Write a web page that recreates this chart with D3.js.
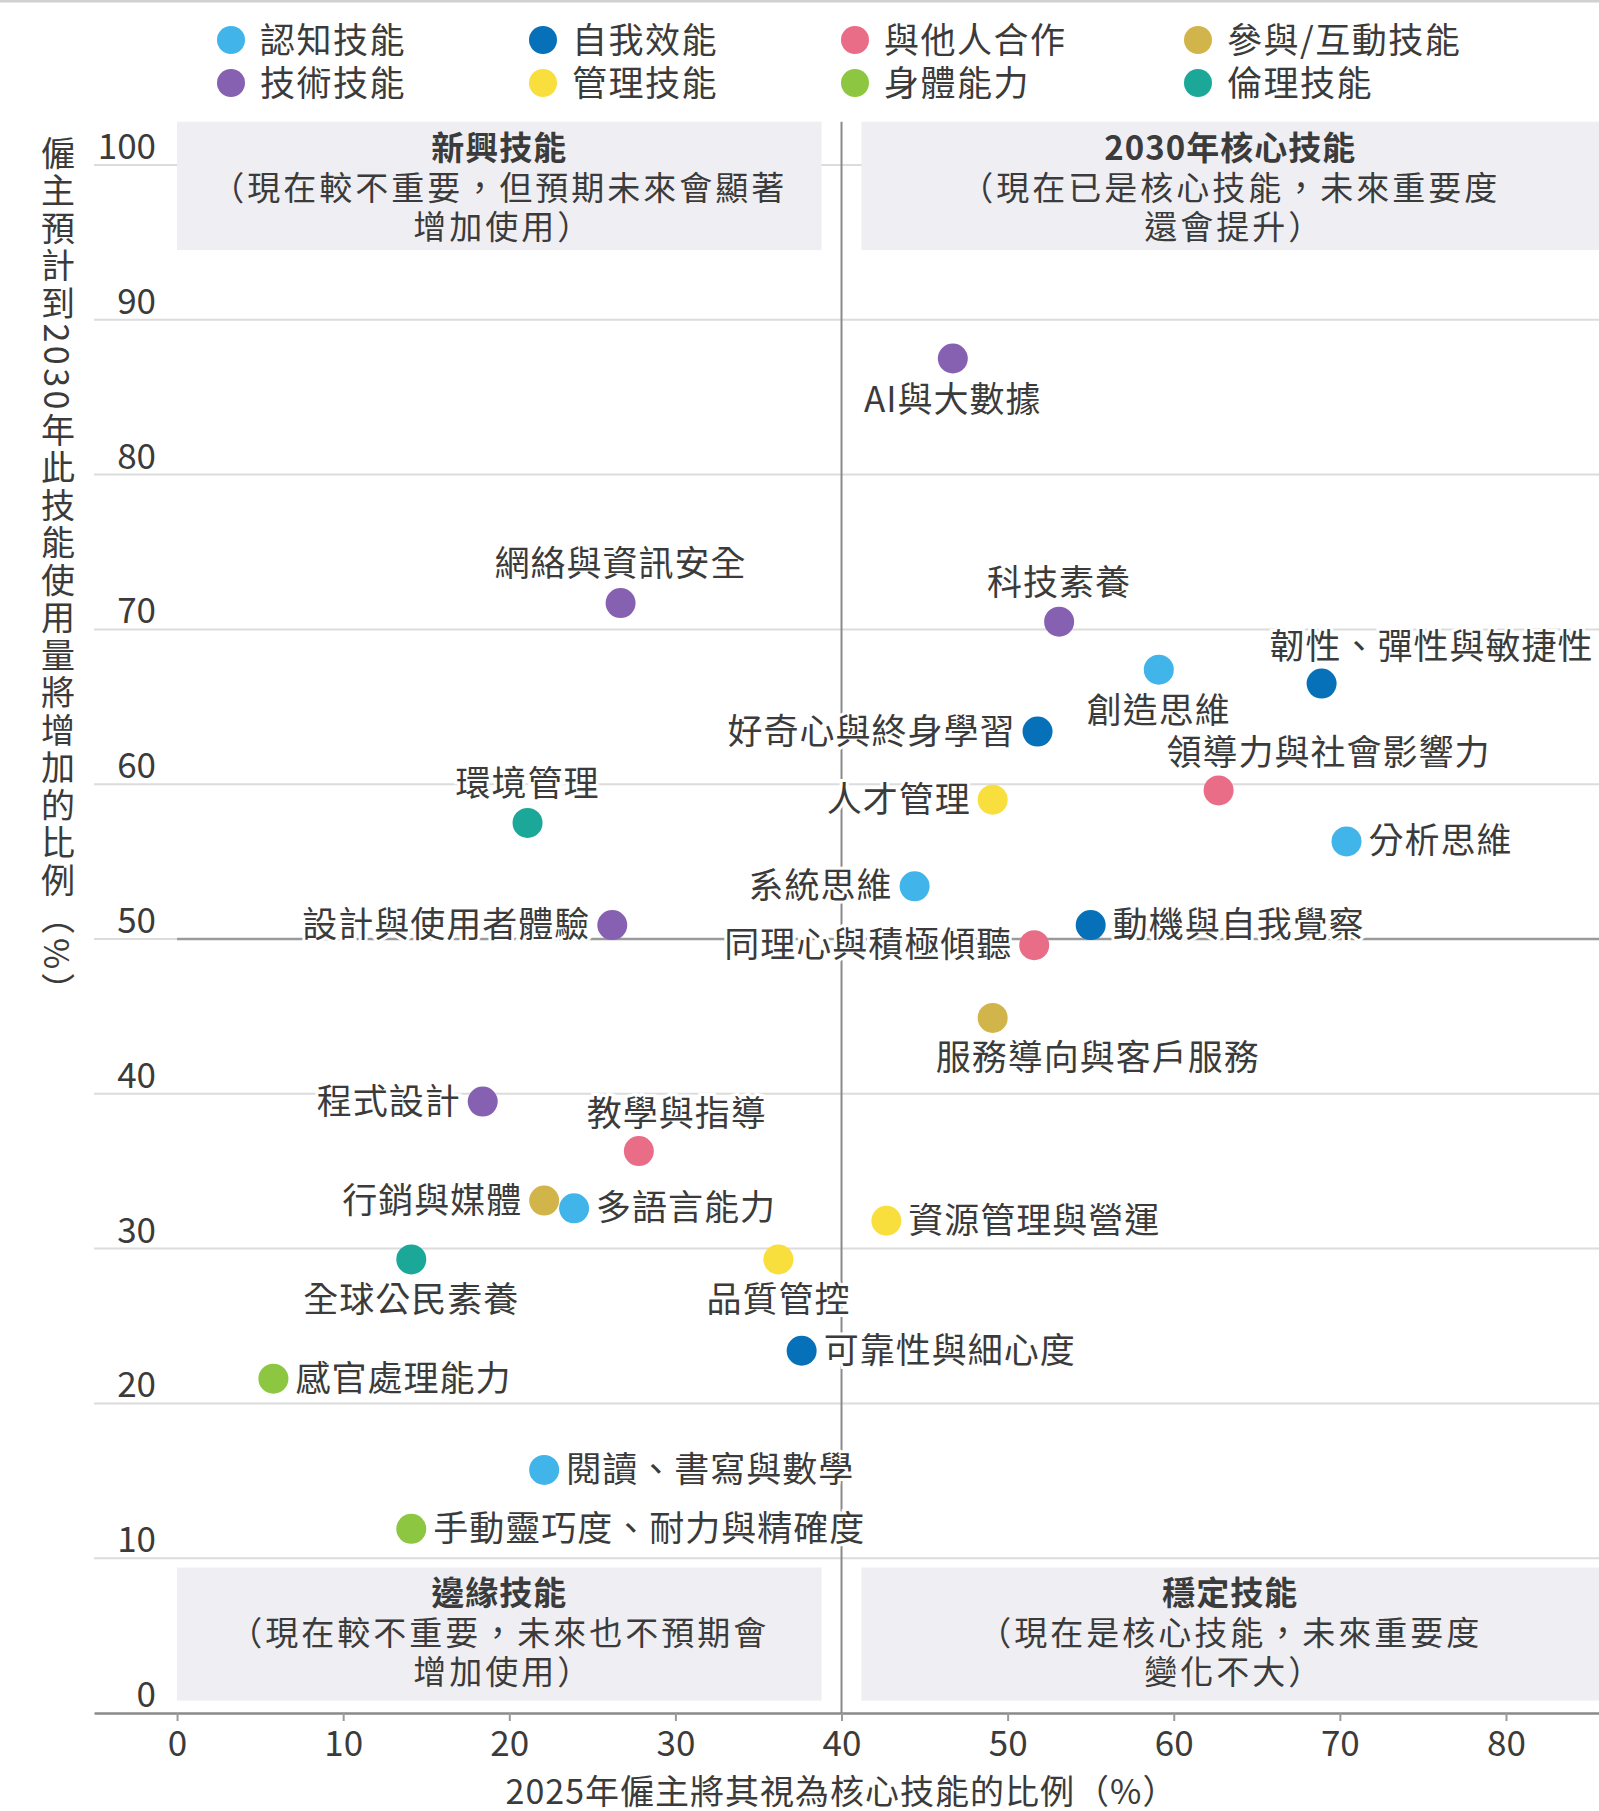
<!DOCTYPE html>
<html>
<head>
<meta charset="utf-8">
<script src="https://cdn.jsdelivr.net/npm/d3@7"></script>
<style>
    body { margin: 0; background: #fff; }
    svg text { font-family: "Noto Sans CJK TC", "Noto Sans", sans-serif; fill: #3b3b3b; }
</style>
</head>
<body>
<svg id="chart" width="1599" height="1811"></svg>
<script>
// 類別
const categoryNames = ["認知技能", "自我效能", "與他人合作", "參與/互動技能", "技術技能", "管理技能", "身體能力", "倫理技能"];

// 技能、2025核心比例、2030增加比例
const skills = [
    "AI與大數據", "網絡與資訊安全", "科技素養", "創造思維", "韌性、彈性與敏捷性",
    "好奇心與終身學習", "領導力與社會影響力", "環境管理", "人才管理", "分析思維",
    "系統思維", "設計與使用者體驗", "動機與自我覺察", "同理心與積極傾聽", "服務導向與客戶服務",
    "程式設計", "教學與指導", "行銷與媒體", "多語言能力", "資源管理與營運",
    "全球公民素養", "品質管控", "可靠性與細心度", "感官處理能力", "閱讀、書寫與數學",
    "手動靈巧度、耐力與精確度",
];
const core2025 = [46.7, 26.7, 53.1, 59.1, 68.9, 51.8, 62.7, 21.1, 49.1, 70.4, 44.4, 26.2, 55.0, 51.6, 49.1, 18.4, 27.8, 22.1, 23.9, 42.7, 14.1, 36.2, 37.6, 5.8, 22.1, 14.1];
const increase2030 = [87.5, 71.7, 70.5, 67.4, 66.5, 63.4, 59.6, 57.5, 59.0, 56.3, 53.4, 50.9, 50.9, 49.6, 44.9, 39.5, 36.3, 33.1, 32.6, 31.8, 29.3, 29.3, 23.4, 21.6, 15.7, 11.9];
const skillCategory = [
    "技術技能", "技術技能", "技術技能", "認知技能", "自我效能",
    "自我效能", "與他人合作", "倫理技能", "管理技能", "認知技能",
    "認知技能", "技術技能", "自我效能", "與他人合作", "參與/互動技能",
    "技術技能", "與他人合作", "參與/互動技能", "認知技能", "管理技能",
    "倫理技能", "管理技能", "自我效能", "身體能力", "認知技能",
    "身體能力",
];
// 標籤在點的哪一邊
const labelSide = [
    "below", "above", "above", "below", "aboveR",
    "left", "aboveR", "above", "left", "right",
    "left", "left", "right", "left", "belowR",
    "left", "aboveR", "left", "right", "right",
    "below", "below", "right", "right", "right",
    "right",
];

const xTicks = [0, 10, 20, 30, 40, 50, 60, 70, 80];
const yTicks = [0, 10, 20, 30, 40, 50, 60, 70, 80, 90, 100];

// 四個象限
const quadTitles = ["新興技能", "2030年核心技能", "邊緣技能", "穩定技能"];
const quadLine1 = ["（現在較不重要，但預期未來會顯著", "（現在已是核心技能，未來重要度", "（現在較不重要，未來也不預期會", "（現在是核心技能，未來重要度"];
const quadLine2 = ["增加使用）", "還會提升）", "增加使用）", "變化不大）"];

const xTitle = "2025年僱主將其視為核心技能的比例（%）";
const yTitle = "僱主預計到2030年此技能使用量將增加的比例（%）";

let x = d3.scaleLinear().domain([-5, 85.6]).range([94, 1599]);
let y = d3.scaleLinear().domain([0, 100]).range([1713, 165]);
let color = d3.scaleOrdinal()
    .domain(categoryNames)
    .range(["#41b4ea", "#0670b8", "#e96d86", "#d2b54a", "#8761b1", "#f8df3d", "#8dc641", "#1ba899"]);

let svg = d3.select("#chart");

svg.append("line")
    .attr("x1", 0).attr("x2", 1599).attr("y1", 1).attr("y2", 1)
    .attr("stroke", "#d0d0d0").attr("stroke-width", 3);

// 圖例
let legend = svg.append("g")
    .selectAll("g")
    .data(categoryNames)
    .enter()
    .append("g")
    .attr("transform", (d, i) => `translate(${[231, 543, 855, 1198][i % 4]}, ${i < 4 ? 40 : 83})`);
legend.append("circle").attr("r", 14).attr("fill", (d) => color(d));
legend.append("text")
    .attr("x", 29)
    .attr("y", 13)
    .attr("font-size", 35)
    .attr("letter-spacing", 1.5)
    .text((d) => d);

// 格線
svg.append("g")
    .selectAll("line")
    .data(yTicks.filter((d) => d > 0))
    .enter()
    .append("line")
    .attr("x1", x(-5)).attr("x2", x(85.6))
    .attr("y1", (d) => y(d)).attr("y2", (d) => y(d))
    .attr("stroke", "#dcdcdc").attr("stroke-width", 2);

// 象限底色
const quadX = [[0, 38.8], [41.2, 85.6], [0, 38.8], [41.2, 85.6]];
const quadY = [[94.5, 102.8], [94.5, 102.8], [0.8, 9.4], [0.8, 9.4]];
let quads = svg.append("g")
    .selectAll("g")
    .data(quadTitles)
    .enter()
    .append("g");
quads.append("rect")
    .attr("x", (d, i) => x(quadX[i][0]))
    .attr("y", (d, i) => y(quadY[i][1]))
    .attr("width", (d, i) => x(quadX[i][1]) - x(quadX[i][0]))
    .attr("height", (d, i) => y(quadY[i][0]) - y(quadY[i][1]))
    .attr("fill", "#efeff3");
const quadCx = (i) => (x(quadX[i][0]) + x(quadX[i][1])) / 2;
const quadTop = (i) => y(quadY[i][1]);
quads.append("text")
    .attr("x", (d, i) => quadCx(i))
    .attr("y", (d, i) => quadTop(i) + 38)
    .attr("text-anchor", "middle")
    .attr("font-size", 33)
    .attr("font-weight", 700)
    .attr("letter-spacing", 1)
    .text((d) => d);
quads.append("text")
    .attr("x", (d, i) => quadCx(i))
    .attr("y", (d, i) => quadTop(i) + 78)
    .attr("text-anchor", "middle")
    .attr("font-size", 33)
    .attr("letter-spacing", 3)
    .text((d, i) => quadLine1[i]);
quads.append("text")
    .attr("x", (d, i) => quadCx(i) + 4)
    .attr("y", (d, i) => quadTop(i) + 117)
    .attr("text-anchor", "middle")
    .attr("font-size", 33)
    .attr("letter-spacing", 3)
    .text((d, i) => quadLine2[i]);

// 50 參考線 & 40 分隔線
svg.append("line")
    .attr("x1", x(0)).attr("x2", x(85.6))
    .attr("y1", y(50)).attr("y2", y(50))
    .attr("stroke", "#9a9a9a").attr("stroke-width", 2.5);
svg.append("line")
    .attr("x1", x(40)).attr("x2", x(40))
    .attr("y1", y(102.8)).attr("y2", y(0))
    .attr("stroke", "#8a8a8a").attr("stroke-width", 2);

// x 軸
let xAxis = svg.append("g")
    .attr("transform", `translate(0, ${y(0)})`)
    .call(d3.axisBottom(x).tickValues(xTicks).tickSize(8).tickSizeOuter(0).tickPadding(10));
xAxis.select(".domain").attr("stroke", "#8a8a8a").attr("stroke-width", 2.5);
xAxis.selectAll(".tick line").attr("stroke", "#9a9a9a").attr("stroke-width", 2);
xAxis.selectAll(".tick text")
    .attr("font-size", 35)
    .attr("font-family", "Noto Sans CJK TC")
    .attr("fill", "#3b3b3b");

// y 軸標籤
svg.append("g")
    .selectAll("text")
    .data(yTicks)
    .enter()
    .append("text")
    .attr("x", 156)
    .attr("y", (d) => y(d) - 6)
    .attr("text-anchor", "end")
    .attr("font-size", 35)
    .text((d) => d);

// 軸標題
svg.append("text")
    .attr("x", x(40))
    .attr("y", 1804)
    .attr("text-anchor", "middle")
    .attr("font-size", 34)
    .attr("letter-spacing", 1)
    .text(xTitle);
svg.append("text")
    .attr("x", 58)
    .attr("y", 136)
    .attr("font-size", 34)
    .attr("letter-spacing", 3.5)
    .style("writing-mode", "vertical-rl")
    .text(yTitle);

// 資料點
const points = skills.map((name, i) => ({
    name: name,
    cx: core2025[i],
    cy: increase2030[i],
    cat: skillCategory[i],
    side: labelSide[i],
}));

svg.append("g")
    .selectAll("circle")
    .data(points)
    .enter()
    .append("circle")
    .attr("cx", (d) => x(d.cx))
    .attr("cy", (d) => y(d.cy))
    .attr("r", 15)
    .attr("fill", (d) => color(d.cat));

const dxBySide = { above: 0, below: 0, left: -22, right: 22, aboveR: -52, belowR: -57 };
const dyBySide = { above: -27, below: 53, left: 12, right: 12, aboveR: -25, belowR: 52 };
const anchorBySide = { above: "middle", below: "middle", left: "end", right: "start", aboveR: "start", belowR: "start" };

svg.append("g")
    .selectAll("text")
    .data(points)
    .enter()
    .append("text")
    .attr("x", (d) => x(d.cx) + dxBySide[d.side])
    .attr("y", (d) => y(d.cy) + dyBySide[d.side])
    .attr("text-anchor", (d) => anchorBySide[d.side])
    .attr("font-size", 35)
    .attr("letter-spacing", 1)
    .attr("stroke", "#fff")
    .attr("stroke-width", 6)
    .attr("paint-order", "stroke")
    .text((d) => d.name);
</script>
</body>
</html>
